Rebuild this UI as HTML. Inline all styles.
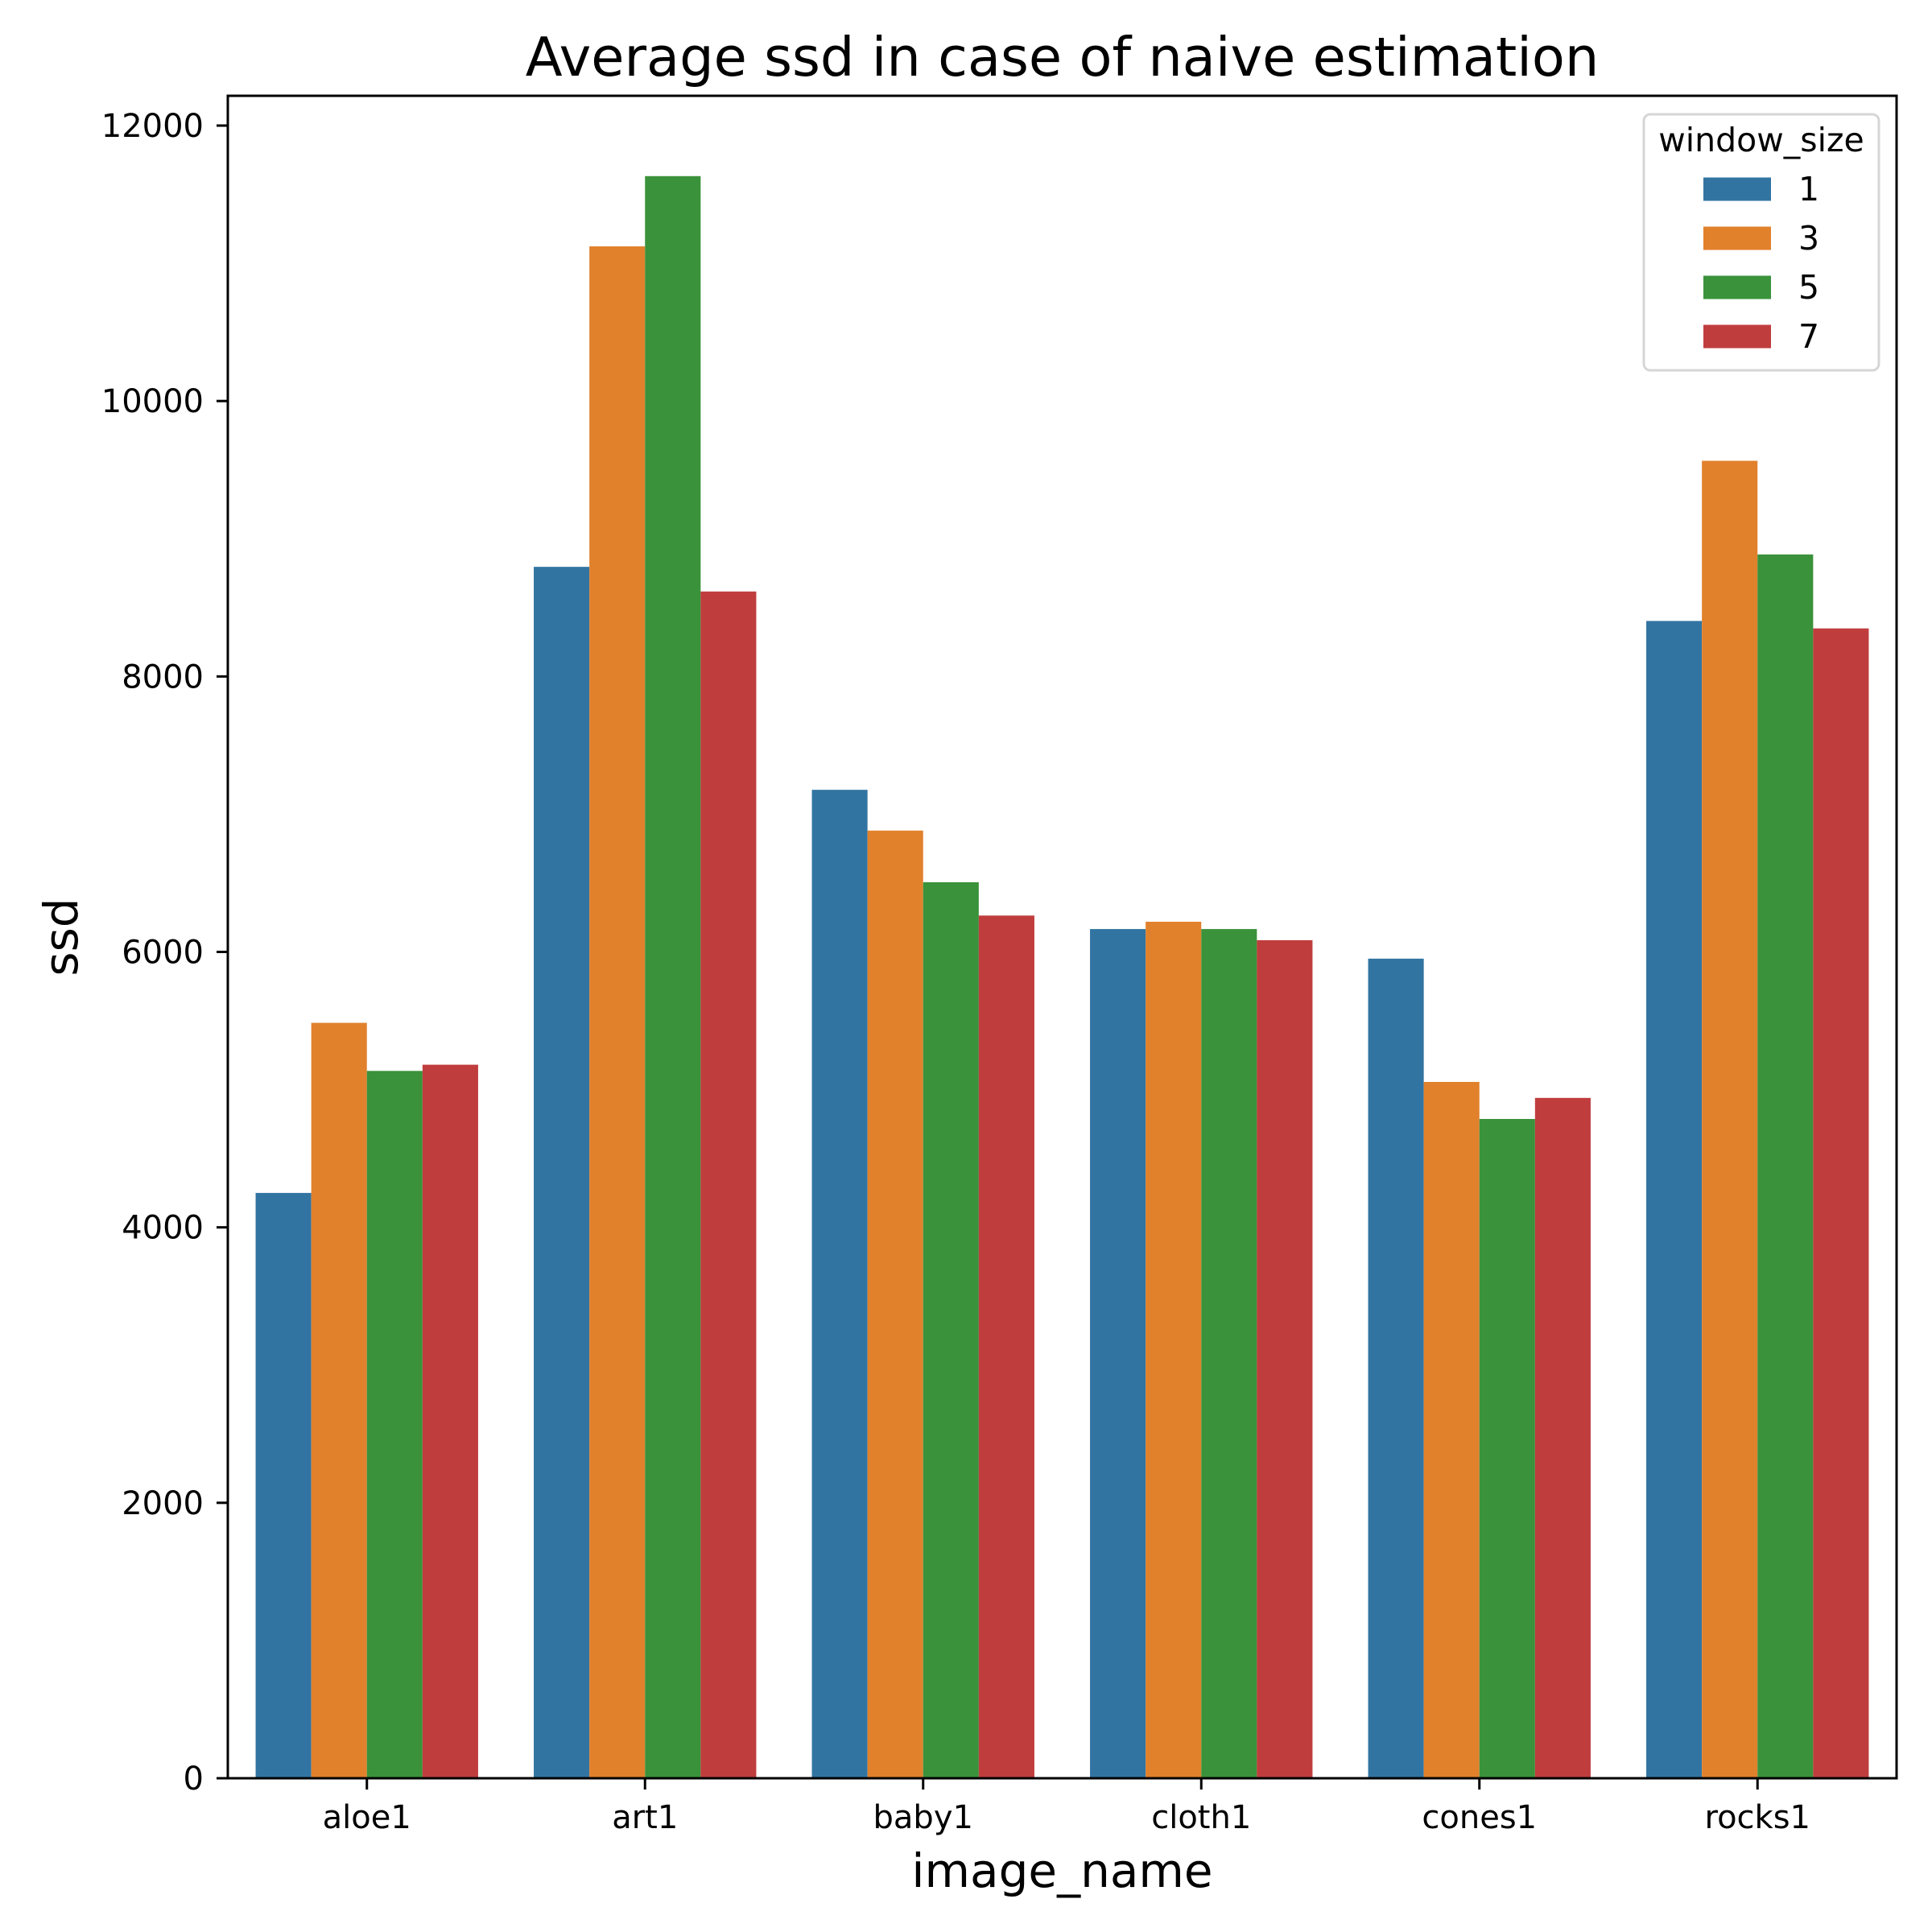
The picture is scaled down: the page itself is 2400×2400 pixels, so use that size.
<!DOCTYPE html>
<html><head><meta charset="utf-8"><style>html,body{margin:0;padding:0;background:#fff}svg{display:block}text{font-family:"DejaVu Sans","Liberation Sans",sans-serif;fill:#000}</style></head>
<body>
<svg id="chart" width="2400" height="2400" viewBox="0 0 2400 2400" xmlns="http://www.w3.org/2000/svg"></svg>
<script>
const categories = ["aloe1","art1","baby1","cloth1","cones1","rocks1"];
const seriesNames = ["1","3","5","7"];
const ws1 = [4250, 8796, 7177, 6166, 5951, 8403];
const ws3 = [5485, 11123, 6881, 6219, 5056, 9566];
const ws5 = [5136, 11633, 6506, 6166, 4787, 8886];
const ws7 = [5181, 8617, 6264, 6085, 4940, 8349];
const yTicks = [0, 2000, 4000, 6000, 8000, 10000, 12000];
const colors = ["#3274a1","#e1812c","#3a923a","#c03d3e"];
const series = [ws1, ws3, ws5, ws7];

const svg = document.getElementById('chart');
const NS = 'http://www.w3.org/2000/svg';
const L = 283, R = 2356, T = 119, B = 2209;
const yMax = 12000, yTop = 156;
const band = (R - L) / categories.length;
function xScale(i){ return L + band * (i + 0.5); }
function yScale(v){ return B - (B - yTop) * v / yMax; }
function mk(tag, attrs, parent){ const e = document.createElementNS(NS, tag); for (const k in attrs) e.setAttribute(k, attrs[k]); (parent||svg).appendChild(e); return e; }

const barW = band * 0.8 / series.length;
series.forEach((vals, s) => {
  vals.forEach((v, i) => {
    const x = xScale(i) - band * 0.4 + s * barW;
    const r = mk('rect', {x: x, y: yScale(v), width: barW, height: B - yScale(v), fill: colors[s]});
    
    
  });
});

const frame = mk('rect', {x: L, y: T, width: R - L, height: B - T, fill: 'none', stroke: '#000', 'stroke-width': 3});



yTicks.forEach(t => {
  const y = yScale(t);
  const tk = mk('line', {x1: L - 14, x2: L, y1: y, y2: y, stroke: '#000', 'stroke-width': 3});
  
  
  const tx = mk('text', {x: L - 30, y: y + 14, 'text-anchor': 'end', 'font-size': 40});
  tx.textContent = String(t);
  
  
});

categories.forEach((c, i) => {
  const x = xScale(i);
  const tk = mk('line', {x1: x, x2: x, y1: B, y2: B + 14, stroke: '#000', 'stroke-width': 3});
  
  
  const tx = mk('text', {x: x, y: B + 62, 'text-anchor': 'middle', 'font-size': 40});
  tx.textContent = c;
  
  
});

const title = mk('text', {x: (L + R) / 2, y: 94, 'text-anchor': 'middle', 'font-size': 67});
title.textContent = 'Average ssd in case of naive estimation';


const xl = mk('text', {x: (L + R) / 2, y: 2344, 'text-anchor': 'middle', 'font-size': 58});
xl.textContent = 'image_name';


const yl = mk('text', {x: 0, y: 0, 'text-anchor': 'middle', 'font-size': 58, transform: 'translate(96,' + ((T + B) / 2) + ') rotate(-90)'});
yl.textContent = 'ssd';



const lg = mk('g', {});


mk('rect', {x: 2042, y: 142, width: 292, height: 318, rx: 8, fill: '#fff', stroke: '#d6d6d6', 'stroke-width': 3}, lg);
const lt = mk('text', {x: 2188, y: 188, 'text-anchor': 'middle', 'font-size': 41}, lg);
lt.textContent = 'window_size';


seriesNames.forEach((n, s) => {
  const cy = 235 + s * 61;
  const p = mk('rect', {x: 2116, y: cy - 14.5, width: 84, height: 29, fill: colors[s]}, lg);
  
  
  const t = mk('text', {x: 2234, y: cy + 14, 'font-size': 41}, lg);
  t.textContent = n;
  
  
});
</script>
</body></html>
